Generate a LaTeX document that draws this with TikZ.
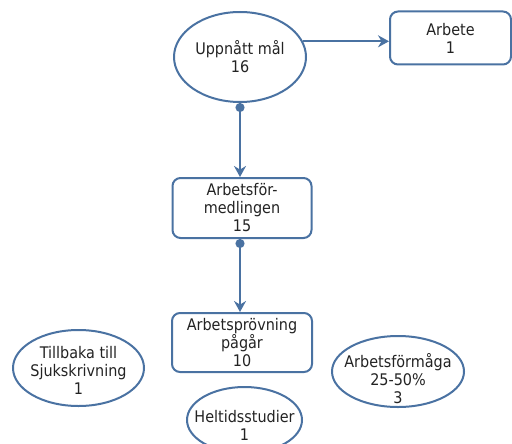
\documentclass[tikz,border=0pt]{standalone}
\usepackage{fontspec}
\setmainfont{DejaVu Sans Condensed}
\usetikzlibrary{shapes.geometric,arrows.meta}
\definecolor{lineblue}{RGB}{74,114,162}
\definecolor{textgray}{RGB}{35,35,35}

\tikzset{
  every node/.style={text=textgray, align=center, font=\fontsize{8}{9}\selectfont},
  oval/.style={ellipse, draw=lineblue, line width=1pt, inner sep=0pt},
  box/.style={rectangle, rounded corners=4pt, draw=lineblue, line width=1pt, inner sep=0pt},
  link/.style={draw=lineblue, line width=1pt, -{Stealth[length=5.5pt,width=6pt]}},
  dotlink/.style={link, {Circle[length=4.5pt]}-{Stealth[length=5.5pt,width=6pt]}}
}

\begin{document}
\begin{tikzpicture}[x=0.5pt, y=-0.5pt]
    \useasboundingbox (0,0) rectangle (512,443);

    % Top row
    \node[oval, minimum width=66pt, minimum height=45pt, label=center:{Uppnått mål\\16}] (mal) at (240,57) {};
    \node[box, minimum width=60.5pt, minimum height=26.5pt] (arbete) at (450.5,38) {Arbete\\1};

    % Middle column
    \node[box, minimum width=69.5pt, minimum height=30pt] (formedl) at (242,208) {Arbetsför-\\medlingen\\15};
    \node[box, minimum width=70pt, minimum height=29.5pt] (provning) at (242,342.5) {Arbetsprövning\\pågår\\10};

    % Bottom row (text as centre labels, so the ovals keep their size)
    \node[oval, minimum width=65.5pt, minimum height=38pt, label={[yshift=-1pt]center:{Tillbaka till\\Sjukskrivning\\1}}] (tillbaka) at (78.5,368) {};
    \node[oval, minimum width=66pt, minimum height=35.5pt, label={[yshift=-3.5pt]center:{Arbetsförmåga\\25-50\%\\3}}] (formaga) at (398,371.5) {};
    \node[oval, minimum width=57.5pt, minimum height=33pt, label={[yshift=-2.5pt]center:{Heltidsstudier\\1}}] (studier) at (244.5,420) {};

    % Connectors
    \draw[link] (mal.14) -- (mal.14 -| arbete.west);
    \draw[dotlink] (mal.south) -- (mal.south |- formedl.north);
    \draw[dotlink] (formedl.south -| mal.south) -- (provning.north -| mal.south);
\end{tikzpicture}
\end{document}
